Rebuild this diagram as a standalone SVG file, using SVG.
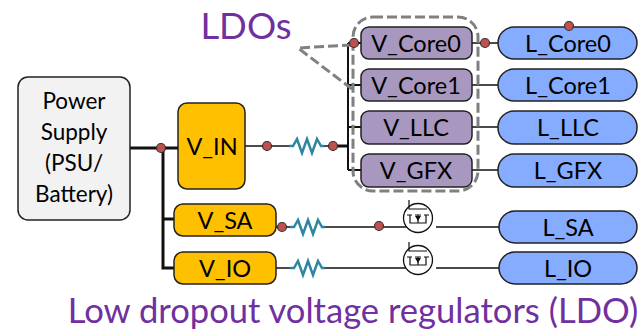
<svg xmlns="http://www.w3.org/2000/svg" width="638" height="329" viewBox="0 0 638 329">
<defs>
<style>
text{font-family:"Lato","Open Sans",sans-serif;fill:#000;text-anchor:middle}
.l{font-size:23.5px}
.p{font-size:22.5px}
.t{font-size:36.5px;fill:#7030a0}
.s{font-size:34.6px;fill:#7030a0}
.v{fill:#ffc000;stroke:#222;stroke-width:1.5}
.r{fill:#a898bf;stroke:#222;stroke-width:1.5}
.b{fill:#85acff;stroke:#222;stroke-width:1.5}
.w{fill:none;stroke:#111;stroke-width:1.5}
.h{fill:none;stroke:#111;stroke-width:3}
.m{fill:none;stroke:#111;stroke-width:2}
.z{fill:none;stroke:#2e86a0;stroke-width:2.5}
.d{fill:#c0504d;stroke:#333;stroke-width:1.2}
.g{fill:none;stroke:#808080;stroke-width:3;stroke-dasharray:10 4}
</style>
<g id="fet"><circle cx="0" cy="0" r="14.5" fill="#fff" stroke="#111" stroke-width="1.3"/><path d="M-9-18V-9H9M-11-3H-6M-3-3H3M6-3H11M-8-3V5H8V-3M0-3V5" fill="none" stroke="#111" stroke-width="1.2"/><path d="M-3-2H3L0 3Z" fill="#111"/></g>
</defs>
<g id="connectors">
<path class="h" d="M130 148H178M163 148V268H174M163 219H174"/>
<path class="w" d="M245 146H290M322 146H333M472 43H498M472 85H498M472 127H498M472 170H498M276 227H290M325 227H408M436 227H499M276 268H290M325 268H408M436 268H499"/>
<path class="h" d="M333 146H348"/>
<path class="m" d="M348 43V170M348 43H361M348 85H361M348 127H361M348 170H361"/>
<polyline class="z" points="289,146 293,146 297,139 302,153 307,139 312,153 317,139 321,146 324,146"/>
<polyline class="z" points="290,227 294,227 298,220 303,234 308,220 313,234 318,220 322,227 325,227"/>
<polyline class="z" points="290,268 294,268 298,261 303,275 308,261 313,275 318,261 322,268 325,268"/>
<use href="#fet" x="418" y="218"/>
<use href="#fet" x="418" y="260"/>
</g>
<g id="psu"><rect x="18" y="77" width="112" height="143" rx="10" fill="#f2f2f2" stroke="#222" stroke-width="1.5"/><text class="p" x="74" y="109">Power</text><text class="p" x="74" y="140">Supply</text><text class="p" x="74" y="171">(PSU/</text><text class="p" x="74" y="202">Battery)</text></g>
<g id="v_in"><rect class="v" x="178" y="103" width="67" height="86" rx="9"/><text class="l" x="212" y="155">V_IN</text></g>
<g id="v_sa"><rect class="v" x="174" y="204" width="102" height="32" rx="9"/><text class="l" x="225" y="229">V_SA</text></g>
<g id="v_io"><rect class="v" x="174" y="252" width="102" height="32" rx="9"/><text class="l" x="225" y="277">V_IO</text></g>
<g id="v_core0"><rect class="r" x="361" y="27" width="111" height="32" rx="8"/><text class="l" x="416" y="52">V_Core0</text></g>
<g id="v_core1"><rect class="r" x="361" y="69" width="111" height="32" rx="8"/><text class="l" x="416" y="94">V_Core1</text></g>
<g id="v_llc"><rect class="r" x="361" y="111" width="111" height="33" rx="8"/><text class="l" x="416" y="136">V_LLC</text></g>
<g id="v_gfx"><rect class="r" x="361" y="154" width="111" height="33" rx="8"/><text class="l" x="416" y="179">V_GFX</text></g>
<g id="l_core0"><rect class="b" x="498" y="27" width="139" height="32" rx="16"/><text class="l" x="568" y="52">L_Core0</text></g>
<g id="l_core1"><rect class="b" x="498" y="69" width="139" height="32" rx="16"/><text class="l" x="568" y="94">L_Core1</text></g>
<g id="l_llc"><rect class="b" x="498" y="111" width="139" height="33" rx="16"/><text class="l" x="568" y="136">L_LLC</text></g>
<g id="l_gfx"><rect class="b" x="498" y="154" width="139" height="33" rx="16"/><text class="l" x="568" y="179">L_GFX</text></g>
<g id="l_sa"><rect class="b" x="499" y="211" width="138" height="32" rx="16"/><text class="l" x="568" y="236">L_SA</text></g>
<g id="l_io"><rect class="b" x="499" y="252" width="138" height="32" rx="16"/><text class="l" x="568" y="277">L_IO</text></g>
<g id="overlay">
<path class="g" d="M352 45L298 48L352 89"/>
<rect class="g" x="353" y="17" width="125" height="174" rx="20"/>
<circle class="d" cx="161" cy="148" r="4.5"/>
<circle class="d" cx="267" cy="146" r="4.5"/>
<circle class="d" cx="333" cy="146" r="4.5"/>
<circle class="d" cx="354" cy="43" r="4.5"/>
<circle class="d" cx="485" cy="43" r="4.5"/>
<circle class="d" cx="569" cy="26" r="4.5"/>
<circle class="d" cx="282" cy="227" r="4.5"/>
<circle class="d" cx="379" cy="226" r="4.5"/>
</g>
<text class="t" x="246" y="39">LDOs</text>
<text class="s" x="353" y="323">Low dropout voltage regulators (LDO)</text>
</svg>
